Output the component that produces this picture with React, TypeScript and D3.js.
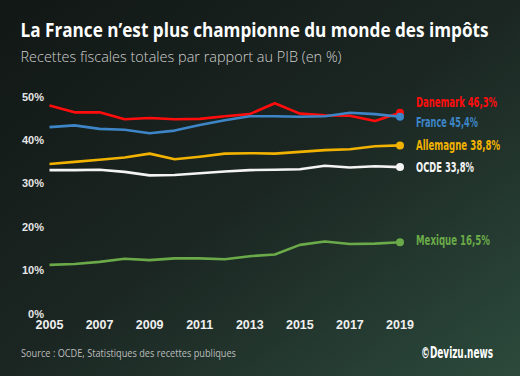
import React from "react";
import * as d3 from "d3";

const years = [2005, 2006, 2007, 2008, 2009, 2010, 2011, 2012, 2013, 2014, 2015, 2016, 2017, 2018, 2019];
const danemark = [48.0, 46.4, 46.4, 44.8, 45.1, 44.8, 44.9, 45.5, 46.0, 48.5, 46.1, 45.7, 45.6, 44.4, 46.3];
const france = [43.0, 43.4, 42.6, 42.4, 41.6, 42.2, 43.5, 44.6, 45.5, 45.5, 45.4, 45.5, 46.3, 46.0, 45.4];
const allemagne = [34.5, 35.0, 35.5, 36.0, 36.9, 35.6, 36.2, 36.9, 37.0, 36.9, 37.3, 37.7, 37.9, 38.6, 38.8];
const ocde = [33.1, 33.1, 33.2, 32.7, 31.9, 32.0, 32.4, 32.8, 33.1, 33.2, 33.3, 34.1, 33.7, 34.0, 33.8];
const mexique = [11.3, 11.5, 12.0, 12.7, 12.4, 12.8, 12.8, 12.6, 13.3, 13.7, 15.9, 16.7, 16.1, 16.2, 16.5];
const yTicks = [0, 10, 20, 30, 40, 50];
const xTicks = [2005, 2007, 2009, 2011, 2013, 2015, 2017, 2019];

const series = [
  { name: "Danemark", label: "Danemark 46,3%", values: danemark, color: "#ff0d0d", labelY: 102, labelW: 81 },
  { name: "France", label: "France 45,4%", values: france, color: "#3d85c6", labelY: 122, labelW: 62 },
  { name: "Allemagne", label: "Allemagne 38,8%", values: allemagne, color: "#f2b200", labelY: 145, labelW: 84 },
  { name: "OCDE", label: "OCDE 33,8%", values: ocde, color: "#f4f4f4", labelY: 167, labelW: 58 },
  { name: "Mexique", label: "Mexique 16,5%", values: mexique, color: "#6aaa48", labelY: 240, labelW: 74 },
];

export default function App() {
  const W = 520, H = 376;
  const x = d3.scaleLinear().domain([2005, 2019]).range([49.5, 400]);
  const y = d3.scaleLinear().domain([0, 50]).range([314, 96.7]);
  const line = d3.line<number>().x((_, i) => x(years[i])).y((d) => y(d)).curve(d3.curveLinear);
  const condensed = "'Liberation Sans Narrow', 'DejaVu Sans Condensed', 'Liberation Sans', sans-serif";

  return (
    <svg width={W} height={H} style={{ position: "absolute", left: 0, top: 0, display: "block" }}>
      <defs>
        <linearGradient id="bg" x1="0" y1="0" x2="1" y2="1">
          <stop offset="0" stopColor="#111715" />
          <stop offset="0.5" stopColor="#1b2622" />
          <stop offset="1" stopColor="#2c4a3c" />
        </linearGradient>
      </defs>
      <rect x={0} y={0} width={W} height={H} fill="url(#bg)" />
      <text x={20.5} y={36.5} fill="#ffffff" fontFamily="'Open Sans', sans-serif" fontWeight={700} fontSize={19.5} textLength={468} lengthAdjust="spacingAndGlyphs">
        La France n’est plus championne du monde des impôts
      </text>
      <text x={20.5} y={62} fill="#cfcfcf" fontFamily="'Open Sans', sans-serif" fontWeight={300} fontSize={14.5} textLength={321} lengthAdjust="spacingAndGlyphs">
        Recettes fiscales totales par rapport au PIB (en %)
      </text>
      {yTicks.map((t) => (
        <text key={t} x={44} y={y(t)} dy="0.35em" textAnchor="end" fill="#e6e6e6" fontFamily="'Liberation Sans', Arial, sans-serif" fontWeight={700} fontSize={11}>
          {t}%
        </text>
      ))}
      {xTicks.map((t) => (
        <text key={t} x={x(t)} y={325} dy="0.35em" textAnchor="middle" fill="#f0f0f0" fontFamily="'Liberation Sans', Arial, sans-serif" fontWeight={700} fontSize={12.5}>
          {t}
        </text>
      ))}
      {series.map((s) => (
        <g key={s.name}>
          <path d={line(s.values) || ""} fill="none" stroke={s.color} strokeWidth={2.6} strokeLinejoin="round" />
          <circle cx={x(years[years.length - 1])} cy={y(s.values[s.values.length - 1])} r={4} fill={s.color} />
          <text x={416} y={s.labelY} dy="0.35em" fill={s.color} fontFamily={condensed} fontWeight={700} fontSize={14.5} textLength={s.labelW} lengthAdjust="spacingAndGlyphs">
            {s.label}
          </text>
        </g>
      ))}
      <text x={21} y={357} fill="#bdbdbd" fontFamily="'Open Sans', sans-serif" fontSize={10.5} textLength={215} lengthAdjust="spacingAndGlyphs">
        Source : OCDE, Statistiques des recettes publiques
      </text>
      <text x={421} y={358} fill="#ffffff" fontFamily={condensed} fontWeight={700} fontSize={15} textLength={72} lengthAdjust="spacingAndGlyphs">
        ©Devizu.news
      </text>
    </svg>
  );
}
